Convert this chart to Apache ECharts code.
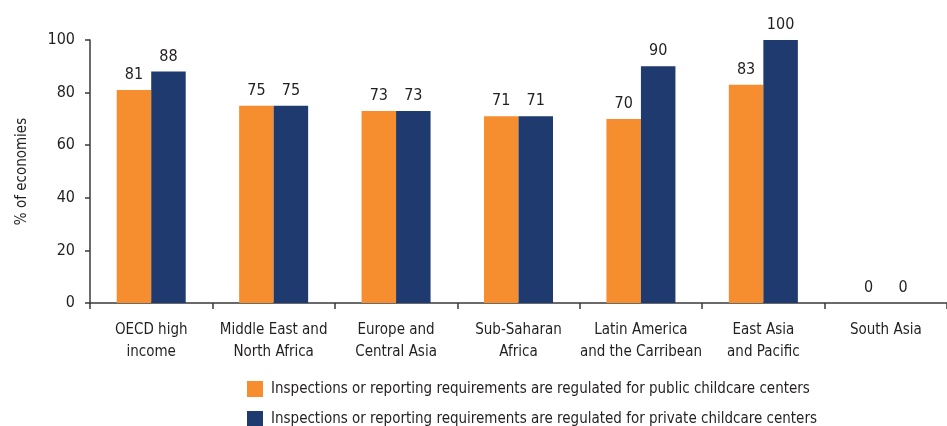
<!DOCTYPE html>
<html>
<head>
<meta charset="utf-8">
<script src="https://cdn.jsdelivr.net/npm/echarts@6/dist/echarts.min.js"></script>
<style>
  html, body { margin: 0; padding: 0; background: #fff; }
  #chart { width: 947px; height: 426px; }
</style>
</head>
<body>
<div id="chart"></div>
<script>
// Regions shown along the horizontal axis
const regions = [
  'OECD high\nincome',
  'Middle East and\nNorth Africa',
  'Europe and\nCentral Asia',
  'Sub-Saharan\nAfrica',
  'Latin America\nand the Carribean',
  'East Asia\nand Pacific',
  'South Asia'
];

// Share of economies (%) with inspections or reporting requirements
const publicCenters = [81, 75, 73, 71, 70, 83, 0];
const privateCenters = [88, 75, 73, 71, 90, 100, 0];

const seriesNames = [
  'Inspections or reporting requirements are regulated for public childcare centers',
  'Inspections or reporting requirements are regulated for private childcare centers'
];

const yTicks = [0, 20, 40, 60, 80, 100];

const FONT = '"DejaVu Sans Condensed", "Roboto", sans-serif';
const TEXT = '#231f20';
const AXIS = '#3a3a3a';
const COLORS = ['#f68d2e', '#1f3a6e'];

const chart = echarts.init(document.getElementById('chart'), null, { renderer: 'canvas' });

const labelStyle = {
  show: true,
  position: 'top',
  distance: 7,
  color: TEXT,
  fontFamily: FONT,
  fontSize: 16
};

function legendFor(i, top) {
  return {
    orient: 'horizontal',
    left: 247,
    top: top,
    padding: 0,
    itemWidth: 16,
    itemHeight: 16,
    icon: 'rect',
    textStyle: { fontFamily: FONT, fontSize: 15, color: TEXT, padding: [0, 0, 0, 3] },
    data: [seriesNames[i]]
  };
}

chart.setOption({
  animation: false,
  textStyle: { fontFamily: FONT, color: TEXT },
  grid: { left: 90, right: -10, top: 40, bottom: 123, containLabel: false },
  legend: [legendFor(0, 381), legendFor(1, 411)],
  xAxis: {
    type: 'category',
    data: regions,
    axisLine: { lineStyle: { color: AXIS, width: 1.5 } },
    axisTick: { show: true, length: 6, alignWithLabel: false, lineStyle: { color: AXIS, width: 1.5 } },
    axisLabel: {
      color: TEXT,
      fontFamily: FONT,
      fontSize: 15,
      lineHeight: 22,
      margin: 16,
      interval: 0
    }
  },
  yAxis: {
    type: 'value',
    min: yTicks[0],
    max: yTicks[yTicks.length - 1],
    interval: 20,
    name: '% of economies',
    nameLocation: 'middle',
    nameGap: 60,
    nameTextStyle: { fontFamily: FONT, fontSize: 15, color: TEXT },
    axisLine: { show: true, lineStyle: { color: AXIS, width: 1.5 } },
    axisTick: { show: true, length: 5, lineStyle: { color: AXIS, width: 1.5 } },
    splitLine: { show: false },
    axisLabel: { color: TEXT, fontFamily: FONT, fontSize: 16, margin: 15 }
  },
  series: [
    {
      name: seriesNames[0],
      type: 'bar',
      data: publicCenters,
      barWidth: 34.5,
      barGap: '0%',
      itemStyle: { color: COLORS[0] },
      label: labelStyle
    },
    {
      name: seriesNames[1],
      type: 'bar',
      data: privateCenters,
      barWidth: 34.5,
      barGap: '0%',
      itemStyle: { color: COLORS[1] },
      label: labelStyle
    }
  ]
});
</script>
</body>
</html>
